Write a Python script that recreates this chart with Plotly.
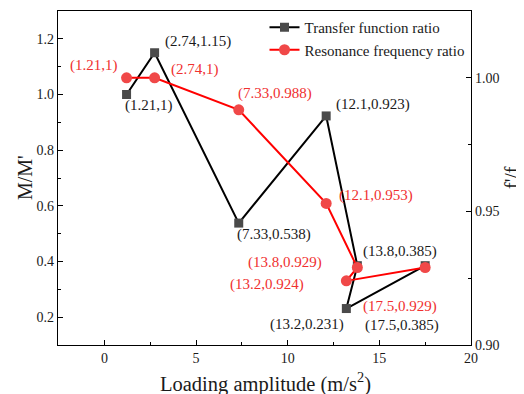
import plotly.graph_objects as go

# Data
x_tf = [1.21, 2.74, 7.33, 12.1, 13.8, 13.2, 17.5]
y_tf = [1.0, 1.15, 0.538, 0.923, 0.385, 0.231, 0.385]
x_rf = [1.21, 2.74, 7.33, 12.1, 13.8, 13.2, 17.5]
y_rf = [1.0, 1.0, 0.988, 0.953, 0.929, 0.924, 0.929]
labels_tf = ["(1.21,1)", "(2.74,1.15)", "(7.33,0.538)", "(12.1,0.923)",
             "(13.8,0.385)", "(13.2,0.231)", "(17.5,0.385)"]
labels_rf = ["(1.21,1)", "(2.74,1)", "(7.33,0.988)", "(12.1,0.953)",
             "(13.8,0.929)", "(13.2,0.924)", "(17.5,0.929)"]
# label offsets in pixels (dx right, dy down)
off_tf = [(22, 11), (43, -11), (35, 11), (47, -11), (43, -14), (-39, 16), (-23, 60)]
off_rf = [(-33, -12), (40, -8), (36, -16), (50, -8), (-72, -5), (-79, 4), (-25, 39)]

FONT = "Times New Roman, Liberation Serif, serif"
TXT = "#1a1a1a"

fig = go.Figure()
fig.add_trace(go.Scatter(
    x=x_tf, y=y_tf, mode="lines+markers", name="Transfer function ratio",
    line=dict(color="black", width=2),
    marker=dict(symbol="square", size=9, color="#4a4a4a", line=dict(width=0)),
    yaxis="y"))
fig.add_trace(go.Scatter(
    x=x_rf, y=y_rf, mode="lines+markers", name="Resonance frequency ratio",
    line=dict(color="#ff0000", width=2),
    marker=dict(symbol="circle", size=11, color="#f04848", line=dict(width=0)),
    yaxis="y2"))

ann = []
for xv, yv, t, (dx, dy) in zip(x_tf, y_tf, labels_tf, off_tf):
    ann.append(dict(x=xv, y=yv, xref="x", yref="y", text=t, showarrow=False,
                    xanchor="center", yanchor="middle",
                    xshift=dx, yshift=-dy, font=dict(family=FONT, size=15, color=TXT)))
for xv, yv, t, (dx, dy) in zip(x_rf, y_rf, labels_rf, off_rf):
    ann.append(dict(x=xv, y=yv, xref="x", yref="y2", text=t, showarrow=False,
                    xanchor="center", yanchor="middle",
                    xshift=dx, yshift=-dy, font=dict(family=FONT, size=15, color="#f03030")))

# axis titles as annotations (pixel placement relative to plot area)
ann.append(dict(x=0, y=0.5, xref="paper", yref="paper", xshift=-33, text="M/M'",
                xanchor="center", yanchor="middle",
                textangle=-90, showarrow=False, font=dict(family=FONT, size=20, color=TXT)))
ann.append(dict(x=1, y=0.5, xref="paper", yref="paper", xshift=41, text="f'/f",
                xanchor="center", yanchor="middle",
                textangle=-90, showarrow=False, font=dict(family=FONT, size=20, color=TXT)))
ann.append(dict(x=0.5, y=0, xref="paper", yref="paper", yshift=-37, xshift=1,
                xanchor="center", yanchor="middle",
                text="Loading amplitude (m/s<sup>2</sup>)",
                showarrow=False, font=dict(family=FONT, size=20.5, color=TXT)))

fig.update_layout(
    width=516, height=386,
    margin=dict(l=50, r=53, t=3, b=49, autoexpand=False),
    paper_bgcolor="white", plot_bgcolor="white",
    font=dict(family=FONT, size=15, color=TXT),
    showlegend=True,
    legend=dict(x=0.50, y=1, xanchor="left", yanchor="top",
                borderwidth=0, bgcolor="rgba(0,0,0,0)",
                font=dict(family=FONT, size=15, color=TXT),
                tracegroupgap=0, itemwidth=30),
    annotations=ann,
    xaxis=dict(range=[-2.53, 20], dtick=5, tick0=0, showgrid=False, zeroline=False,
               showline=True, linecolor="black", linewidth=1.2, mirror=True,
               ticks="inside", ticklen=5, tickcolor="black", automargin=False,
               minor=dict(ticks="inside", ticklen=3, dtick=2.5, tickcolor="black"),
               tickfont=dict(size=14)),
    yaxis=dict(range=[0.1, 1.3], dtick=0.2, tick0=0.2, showgrid=False, zeroline=False,
               showline=True, linecolor="black", linewidth=1.2, automargin=False,
               ticks="inside", ticklen=5, tickcolor="black", tickformat=".1f",
               minor=dict(ticks="inside", ticklen=3, dtick=0.1, tickcolor="black"),
               tickfont=dict(size=14)),
    yaxis2=dict(range=[0.9, 1.025], dtick=0.05, tick0=0.9, overlaying="y", side="right",
                showgrid=False, zeroline=False, automargin=False,
                showline=True, linecolor="black", linewidth=1.2,
                ticks="inside", ticklen=5, tickcolor="black", tickformat=".2f",
                minor=dict(ticks="inside", ticklen=3, dtick=0.025, tickcolor="black"),
                tickfont=dict(size=14)),
)

fig.write_html("out.html")
